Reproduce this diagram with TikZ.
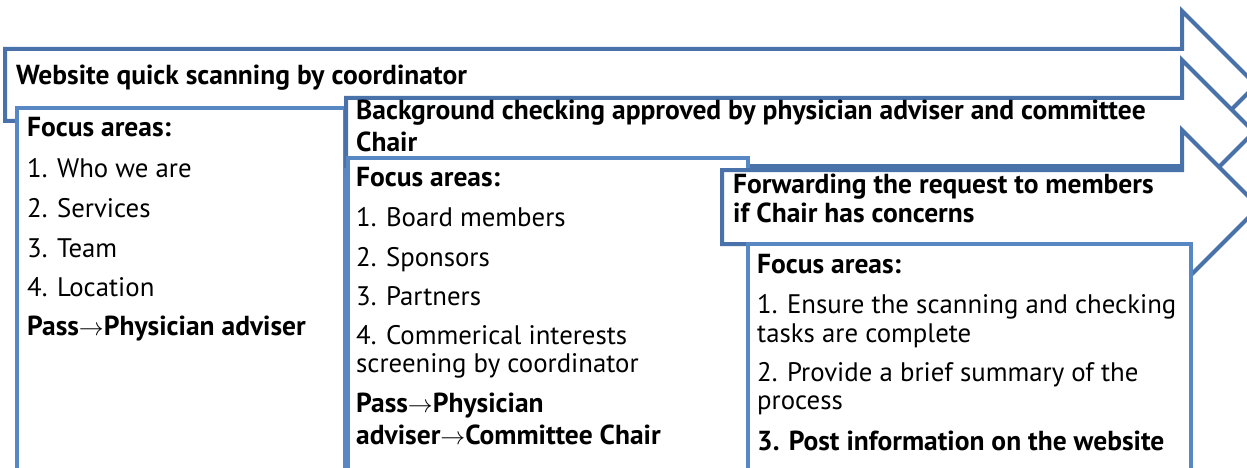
\documentclass[tikz,border=0pt]{standalone}
\usepackage{fontspec}
\setmainfont{PT Sans}
\definecolor{hdrblue}{RGB}{74,114,170}
\definecolor{boxblue}{RGB}{88,136,196}
\newcommand\tline[4]{\node[txt] (#1) at (#2,#3) {#4};}
\newcommand\harr{$\rightarrow$}
\begin{document}
\begin{tikzpicture}[x=1pt,y=-1pt,
  hdr/.style={draw=hdrblue,line width=4pt,fill=white,line join=miter},
  bx/.style={draw=boxblue,line width=4pt,fill=white,line join=miter},
  txt/.style={anchor=base west,inner sep=0pt,font=\fontsize{26.8}{29}\selectfont},
  btxt/.style={txt,font=\fontsize{27.5}{29}\selectfont\bfseries}]
\useasboundingbox (0,0) rectangle (1247,468);
% arrow 1
\draw[hdr] (5,49) -- (1182,49) -- (1182,11) -- (1256,85) -- (1182,159) -- (1182,121) -- (5,121) -- cycle;
\draw[bx] (345,490) -- (345,108) -- (17,108) -- (17,490);
\node[btxt] (h1) at (16,85) {Website quick scanning by coordinator};
\node[btxt] (a0) at (27,137) {Focus areas:};
\tline{a1}{27}{177}{1. Who we are}
\tline{a2}{27}{217}{2. Services}
\tline{a3}{27}{257}{3. Team}
\tline{a4}{27}{296}{4. Location}
\node[btxt] (a5) at (27,335) {Pass\harr Physician adviser};
% arrow 2
\draw[hdr] (346,98) -- (1182,98) -- (1182,60) -- (1254,132) -- (1182,204) -- (1182,166) -- (346,166) -- cycle;
\draw[bx] (748,490) -- (748,158) -- (348,158) -- (348,490);
\node[btxt] (h2a) at (356,120) {Background checking approved by physician adviser and committee};
\node[btxt] (h2b) at (356,151) {Chair};
\node[btxt] (b0) at (356,186) {Focus areas:};
\tline{b1}{356}{226}{1. Board members}
\tline{b2}{356}{266}{2. Sponsors}
\tline{b3}{356}{305}{3. Partners}
\tline{b4a}{356}{344}{4. Commerical interests}
\tline{b4b}{356}{372}{screening by coordinator}
\node[btxt,text depth=0pt] (b5a) at (356,412) {Pass\harr Physician};
\node[btxt] (b5b) at (356,444) {adviser\harr Committee Chair};
% arrow 3
\draw[hdr] (722,170) -- (1182,170) -- (1182,130) -- (1259,207) -- (1182,284) -- (1182,244) -- (722,244) -- cycle;
\draw[bx] (1191,490) -- (1191,244) -- (748,244) -- (748,490);
\node[btxt] (h3a) at (733,193) {Forwarding the request to members};
\node[btxt] (h3b) at (733,222) {if Chair has concerns};
\node[btxt] (c0) at (757,273) {Focus areas:};
\tline{c1a}{757}{313}{1. Ensure the scanning and checking}
\tline{c1b}{757}{342}{tasks are complete}
\tline{c2a}{757}{381}{2. Provide a brief summary of the}
\tline{c2b}{757}{409}{process}
\node[btxt] (c3) at (757,450) {3. Post information on the website};
\end{tikzpicture}
\end{document}
